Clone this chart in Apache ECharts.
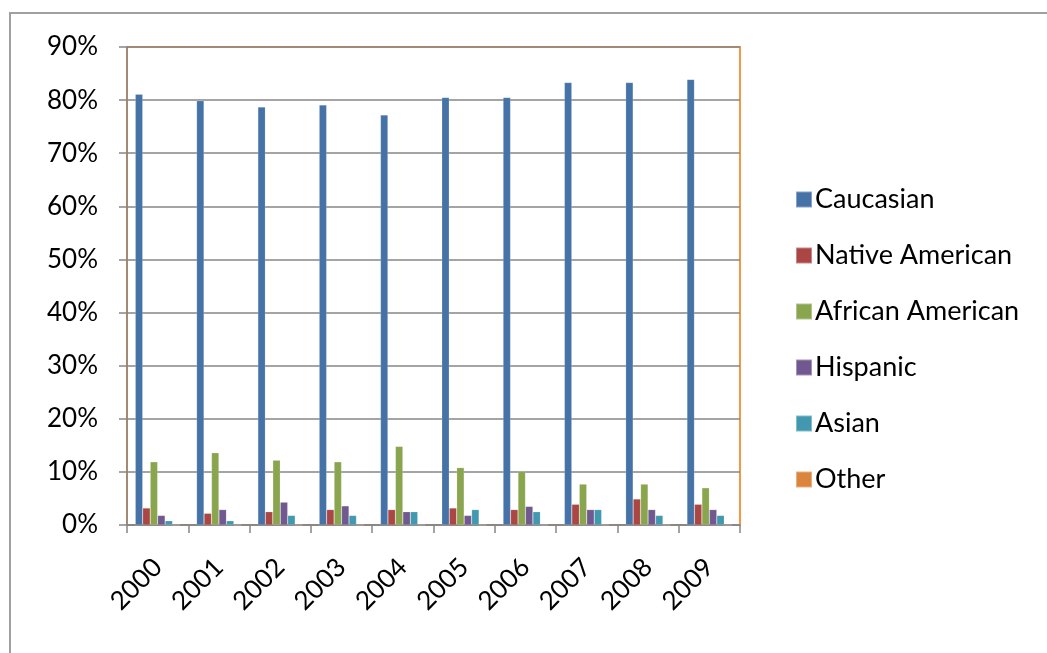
<!DOCTYPE html>
<html>
<head>
<meta charset="utf-8">
<script src="https://cdn.jsdelivr.net/npm/echarts@6/dist/echarts.min.js"></script>
<style>
  html, body { margin: 0; padding: 0; background: #fff; }
  #chart { width: 1047px; height: 653px; }
</style>
</head>
<body>
<div id="chart"></div>
<script>
// Data
var years = ['2000', '2001', '2002', '2003', '2004', '2005', '2006', '2007', '2008', '2009'];
var caucasian = [81.1, 79.9, 78.7, 79.1, 77.2, 80.5, 80.5, 83.3, 83.3, 83.9];
var nativeAmerican = [3.2, 2.2, 2.5, 2.9, 2.9, 3.2, 2.9, 3.9, 4.9, 3.9];
var africanAmerican = [11.9, 13.6, 12.2, 11.9, 14.8, 10.8, 10.1, 7.7, 7.7, 7.0];
var hispanic = [1.8, 2.9, 4.3, 3.6, 2.5, 1.8, 3.5, 2.9, 2.9, 2.9];
var asian = [0.8, 0.8, 1.8, 1.8, 2.5, 2.9, 2.5, 2.9, 1.8, 1.8];
var other = [0, 0, 0, 0, 0, 0, 0, 0, 0, 0];

var seriesNames = ['Caucasian', 'Native American', 'African American', 'Hispanic', 'Asian', 'Other'];
var seriesData = [caucasian, nativeAmerican, africanAmerican, hispanic, asian, other];
var colors = ['#4572A7', '#AA4643', '#89A54E', '#71588F', '#4198AF', '#DB843D'];

var fontFamily = 'Lato, "Open Sans", sans-serif';

var chart = echarts.init(document.getElementById('chart'));

chart.setOption({
    color: colors,
    animation: false,
    textStyle: { fontFamily: fontFamily },

    // outer chart frame
    graphic: [{
        type: 'rect',
        shape: { x: 10, y: 13, width: 1100, height: 700 },
        style: { fill: 'none', stroke: '#a0a0a0', lineWidth: 2 },
        silent: true
    }],

    grid: {
        left: 127,
        right: 307,
        top: 47,
        bottom: 128,
        show: true,
        borderColor: '#F79646',
        borderWidth: 2,
        backgroundColor: 'transparent'
    },

    legend: {
        orient: 'vertical',
        left: 790,
        top: 181,
        itemWidth: 16,
        itemHeight: 16,
        itemGap: 29,
        icon: 'rect',
        data: seriesNames,
        textStyle: {
            fontFamily: fontFamily,
            fontSize: 27,
            color: '#000',
            padding: [0, 0, 0, -2]
        }
    },

    xAxis: {
        type: 'category',
        data: years,
        axisLine: { lineStyle: { color: '#868686', width: 1.5 } },
        axisTick: { show: true, length: 8, lineStyle: { color: '#868686', width: 1.5 } },
        axisLabel: {
            rotate: 45,
            margin: 38,
            fontSize: 26,
            color: '#000',
            fontFamily: fontFamily
        }
    },

    yAxis: {
        type: 'value',
        min: 0,
        max: 90,
        interval: 10,
        axisLine: { show: true, lineStyle: { color: '#868686', width: 1.5 } },
        axisTick: { show: true, length: 8, lineStyle: { color: '#868686', width: 1.5 } },
        axisLabel: {
            formatter: '{value}%',
            margin: 29,
            fontSize: 26,
            color: '#000',
            fontFamily: fontFamily
        },
        splitLine: { lineStyle: { color: '#868686', width: 1.5 } }
    },

    series: seriesNames.map(function(name, i) {
        return {
            name: name,
            type: 'bar',
            data: seriesData[i],
            barGap: '0%',
            barCategoryGap: '27%',
            itemStyle: {
                borderColor: 'rgba(255,255,255,0.35)',
                borderWidth: 0.5
            }
        };
    })
});
</script>
</body>
</html>
